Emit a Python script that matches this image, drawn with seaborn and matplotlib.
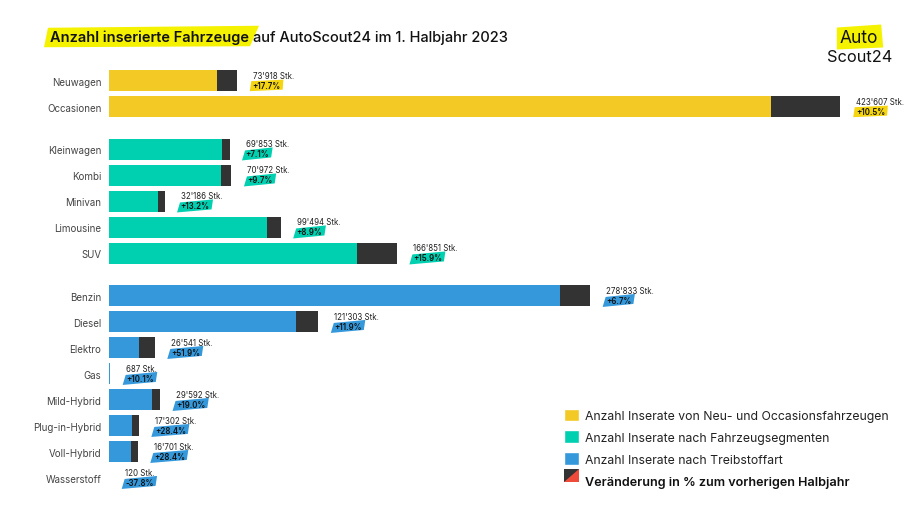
import numpy as np
import pandas as pd
import seaborn as sns
import matplotlib.pyplot as plt
from matplotlib.patches import Patch, Polygon, Rectangle
from matplotlib.legend_handler import HandlerBase
from matplotlib.transforms import IdentityTransform

labels = ['Neuwagen', 'Occasionen', 'Kleinwagen', 'Kombi', 'Minivan', 'Limousine', 'SUV',
          'Benzin', 'Diesel', 'Elektro', 'Gas', 'Mild-Hybrid', 'Plug-in-Hybrid', 'Voll-Hybrid', 'Wasserstoff']
groups = ['neu'] * 2 + ['segment'] * 5 + ['treibstoff'] * 8
totals = [73918, 423607, 69853, 70972, 32186, 99494, 166851,
          278833, 121303, 26541, 687, 29592, 17302, 16701, 120]
# dark end of each bar
change = [11100, 40200, 4600, 6300, 3800, 8100, 22900,
          17500, 12900, 9100, 0, 4700, 3800, 3700, 0]
value_text = ["73'918 Stk.", "423'607 Stk.", "69'853 Stk.", "70'972 Stk.", "32'186 Stk.", "99'494 Stk.", "166'851 Stk.",
              "278'833 Stk.", "121'303 Stk.", "26'541 Stk.", "687 Stk.", "29'592 Stk.", "17'302 Stk.", "16'701 Stk.", "120 Stk."]
pct_text = ['+17.7%', '+10.5%', '+7.1%', '+9.7%', '+13.2%', '+8.9%', '+15.9%',
            '+6.7%', '+11.9%', '+51.9%', '+10.1%', '+19.0%', '+28.4%', '+28.4%', '-37.8%']
legend_labels = ['Anzahl Inserate von Neu- und Occasionsfahrzeugen', 'Anzahl Inserate nach Fahrzeugsegmenten',
                 'Anzahl Inserate nach Treibstoffart', 'Veränderung in % zum vorherigen Halbjahr']

colors = {'neu': '#F2C925', 'segment': '#00CFB0', 'treibstoff': '#3498DB'}
DARK = '#333333'
YELLOW = '#F5F200'

df = pd.DataFrame({'label': labels, 'group': groups, 'total': totals, 'change': change})
df['base'] = df['total'] - df['change']
gap = df['group'].map({'neu': 0, 'segment': 0.635, 'treibstoff': 1.27})
df['pos'] = np.arange(len(df)) + gap

sns.set_theme(style='white')
plt.rcParams['font.family'] = ['Inter', 'DejaVu Sans']

W, H = 920, 510
fig = plt.figure(figsize=(W / 100, H / 100), dpi=100)
PX_PER_UNIT = 731 / 423607
ROW = 26.0
FIRST = 81.7
left, right = 109, 905
top, bottom = 68.5, 491
ax = fig.add_axes([left / W, 1 - bottom / H, (right - left) / W, (bottom - top) / H])

sns.barplot(data=df, y='pos', x='total', orient='y', native_scale=True, color=DARK,
            width=0.82, saturation=1, linewidth=0, ax=ax, errorbar=None)
sns.barplot(data=df, y='pos', x='base', orient='y', native_scale=True, hue='group', palette=colors,
            dodge=False, width=0.82, saturation=1, linewidth=0, ax=ax, errorbar=None, legend=False)

ax.set_xlim(0, (right - left) / PX_PER_UNIT)
ax.set_ylim(df['pos'].iloc[0] + (bottom - FIRST) / ROW, df['pos'].iloc[0] - (FIRST - top) / ROW)
ax.set_yticks(df['pos'], labels)
ax.set_xticks([])
ax.set_xlabel('')
ax.set_ylabel('')
ax.tick_params(axis='y', length=0, pad=5.5, labelsize=7.0, labelcolor='#444444')
sns.despine(ax=ax, left=True, bottom=True)

fig.canvas.draw()
renderer = fig.canvas.get_renderer()


def marker(bb, color, pad_x=2, pad_y=0.5, slant=2.0):
    # slanted felt pen stroke behind a text, in display pixels
    pts = [(bb.x0 - pad_x - slant * 0.5, bb.y0 - pad_y - slant * 0.5),
           (bb.x1 + pad_x, bb.y0 - pad_y + slant * 0.5),
           (bb.x1 + pad_x + slant * 0.5, bb.y1 + pad_y + slant * 0.5),
           (bb.x0 - pad_x + slant * 0.5, bb.y1 + pad_y - slant * 0.5)]
    return Polygon(pts, closed=True, facecolor=color, edgecolor='none',
                   transform=IdentityTransform(), clip_on=False, zorder=4)


for row in df.itertuples():
    pct = pct_text[row.Index]
    val = value_text[row.Index]
    ax.annotate(val, (row.total, row.pos), xytext=(11.5, 4.0), textcoords='offset points',
                fontsize=5.7, color='#222222', ha='left', va='center', annotation_clip=False, zorder=5)
    t = ax.annotate(pct, (row.total, row.pos), xytext=(11.5, -3.4), textcoords='offset points',
                    fontsize=5.7, fontweight='semibold', color='#111111', ha='left', va='center',
                    annotation_clip=False, zorder=5)
    color = '#F5D410' if row.group == 'neu' else colors[row.group]
    ax.add_patch(marker(t.get_window_extent(renderer), color, slant=1.5 if row.group == 'neu' else 3))

# title, first part on a yellow stroke
t1 = fig.text(50 / W, 1 - 38 / H, 'Anzahl inserierte Fahrzeuge', fontsize=10.5, fontweight='semibold',
              color='#111111', va='center', ha='left', zorder=5)
bb = t1.get_window_extent(renderer)
fig.text((bb.x1 + 4) / W, 1 - 38 / H, 'auf AutoScout24 im 1. Halbjahr 2023', fontsize=10.5, fontweight='medium',
         color='#111111', va='center', ha='left', zorder=5)
fig.add_artist(Polygon([(bb.x0 - 6, bb.y0 - 3), (bb.x1 + 1, bb.y0 - 2), (bb.x1 + 10, bb.y1 + 4), (bb.x0 - 2, bb.y1 + 2)],
                       closed=True, facecolor=YELLOW, edgecolor='none', transform=IdentityTransform(), zorder=1))

# logo
t2 = fig.text(859 / W, 1 - 39 / H, 'Auto', fontsize=12.5, color='#111111', va='center', ha='center', zorder=5)
bb = t2.get_window_extent(renderer)
fig.add_artist(Polygon([(bb.x0 - 3, bb.y0 - 3), (bb.x1 + 5, bb.y0 - 1), (bb.x1 + 3, bb.y1 + 5), (bb.x0 - 3, bb.y1 + 2)],
                       closed=True, facecolor=YELLOW, edgecolor='none', transform=IdentityTransform(), zorder=1))
fig.text(859.5 / W, 1 - 58 / H, 'Scout24', fontsize=11.8, color='#111111', va='center', ha='center', zorder=5)


class SplitSquare:
    pass


class HandlerSplit(HandlerBase):
    def create_artists(self, legend, orig, x, y, w, h, fontsize, trans):
        lower = Rectangle((x, y), w, h, facecolor='#EE4B3A', edgecolor='none', transform=trans)
        upper = Polygon([(x, y), (x, y + h), (x + w, y + h)], closed=True, facecolor=DARK,
                        edgecolor='none', transform=trans)
        return [lower, upper]


handles = [Patch(facecolor=colors['neu']), Patch(facecolor=colors['segment']),
           Patch(facecolor=colors['treibstoff']), SplitSquare()]
leg = fig.legend(handles, legend_labels, loc='upper left', bbox_to_anchor=(553 / W, 1 - 398.5 / H),
                 frameon=False, fontsize=8.8, handlelength=1.25, handleheight=1.25, handletextpad=0.5,
                 labelspacing=0.68, labelcolor='#222222', handler_map={SplitSquare: HandlerSplit()})
leg.get_texts()[-1].set_fontweight('semibold')
leg.get_texts()[-1].set_fontsize(9.1)
leg.get_texts()[-1].set_color('#111111')

fig.savefig('out.png', dpi=100)
